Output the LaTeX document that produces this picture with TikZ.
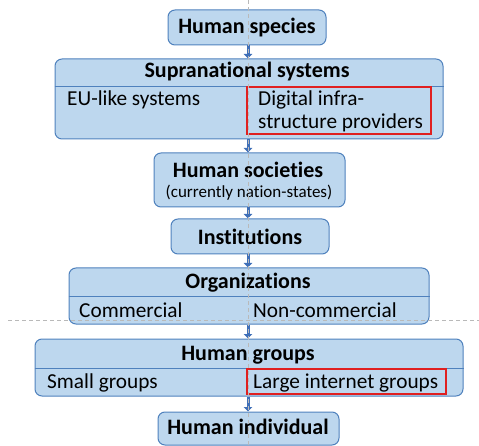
\documentclass[tikz,border=0pt]{standalone}
\usepackage{fontspec}
\setmainfont{Carlito}[Ligatures=NoCommon]
\usetikzlibrary{arrows.meta}
\definecolor{boxfill}{HTML}{BDD7EE}
\definecolor{boxdraw}{HTML}{4F81BD}
\definecolor{flowc}{HTML}{3F6FB8}
\definecolor{hilite}{HTML}{E02020}
\begin{document}
\begin{tikzpicture}[x=1pt,y=-1pt,
  box/.style={draw=boxdraw, fill=boxfill, line width=1pt, rounded corners=7pt, inner sep=0pt},
  title/.style={font=\bfseries\fontsize{22}{24}\selectfont, inner sep=0pt},
  note/.style={font=\fontsize{17}{20}\selectfont, inner sep=0pt},
  sub/.style={font=\fontsize{21.3}{24}\selectfont, anchor=base west, inner sep=0pt},
  sep/.style={draw=boxdraw, line width=0.8pt},
  mark box/.style={draw=hilite, line width=1.3pt},
  flow/.style={draw=flowc, line width=3pt, -{Triangle[length=4.5pt,width=8.5pt]}},
  guide/.style={draw=gray!55, dashed, line width=0.6pt, dash pattern=on 4pt off 3pt}]
\useasboundingbox (0,0) rectangle (479,446);

% boxes
\node[box, minimum width=158pt, minimum height=35pt] (species) at (247,27.5) {};
\node[box, minimum width=388pt, minimum height=80pt] (supra) at (249,99) {};
\node[box, minimum width=191pt, minimum height=54pt] (societies) at (249.5,180) {};
\node[box, minimum width=158pt, minimum height=35pt] (inst) at (250,236.5) {};
\node[box, minimum width=360pt, minimum height=56pt] (orgs) at (249,296) {};
\node[box, minimum width=428pt, minimum height=57pt] (groups) at (249,367.5) {};
\node[box, minimum width=181pt, minimum height=33pt] (indiv) at (248.5,428.5) {};

% separators
\coordinate (supraSep) at (0,86);
\coordinate (orgsSep) at (0,296);
\coordinate (groupsSep) at (0,368);
\draw[sep] (supra.west |- supraSep) -- (supra.east |- supraSep);
\draw[sep] (orgs.west |- orgsSep) -- (orgs.east |- orgsSep);
\draw[sep] (groups.west |- groupsSep) -- (groups.east |- groupsSep);

% titles
\node[title] (tSpecies) at (247,27.5) {Human species};
\node[title] (tSupra) at (247,72) {Supranational systems};
\node[title] (tSoc) at (248,170) {Human societies};
\node[note] (nSoc) at (249,193) {(currently nation-states)};
\node[title] (tInst) at (250,236.5) {Institutions};
\node[title] (tOrgs) at (248,283) {Organizations};
\node[title] (tGroups) at (248,355) {Human groups};
\node[title] (tIndiv) at (248,427) {Human individual};

% sub-items
\node[sub] (eu) at (67,106) {EU-like systems};
\node[sub] (dig1) at (258,106) {Digital infra-};
\node[sub] (dig2) at (258,129) {structure providers};
\node[sub] (comm) at (79,317) {Commercial};
\node[sub] (noncomm) at (253,317) {Non-commercial};
\node[sub] (small) at (47,388) {Small groups};
\node[sub] (large) at (253,388) {Large internet groups};

% highlight boxes
\node[mark box, inner sep=0pt, minimum width=184pt, minimum height=47pt] (hlDig) at (339,110.5) {};
\node[mark box, inner sep=0pt, minimum width=199pt, minimum height=25pt] (hlLarge) at (346.5,381.5) {};

% arrows
\draw[flow] ([xshift=1pt]species.south) -- ([xshift=1pt]species.south |- supra.north);
\draw[flow] (species.south |- supra.south) ++(1,0) coordinate (a2) -- (a2 |- societies.north);
\draw[flow] (species.south |- societies.south) ++(1,0) coordinate (a3) -- (a3 |- inst.north);
\draw[flow] (species.south |- inst.south) ++(1,0) coordinate (a4) -- (a4 |- orgs.north);
\draw[flow] (species.south |- orgs.south) ++(1,0) coordinate (a5) -- (a5 |- groups.north);
\draw[flow] (species.south |- groups.south) ++(1,0) coordinate (a6) -- (a6 |- indiv.north);

% guide lines
\coordinate (gTop) at (248,0);
\coordinate (gBot) at (248,446);
\coordinate (hLeft) at (8,320);
\coordinate (hRight) at (479,320);
\draw[guide] (gTop) -- (gBot);
\draw[guide] (hLeft) -- (hRight);
\end{tikzpicture}
\end{document}
